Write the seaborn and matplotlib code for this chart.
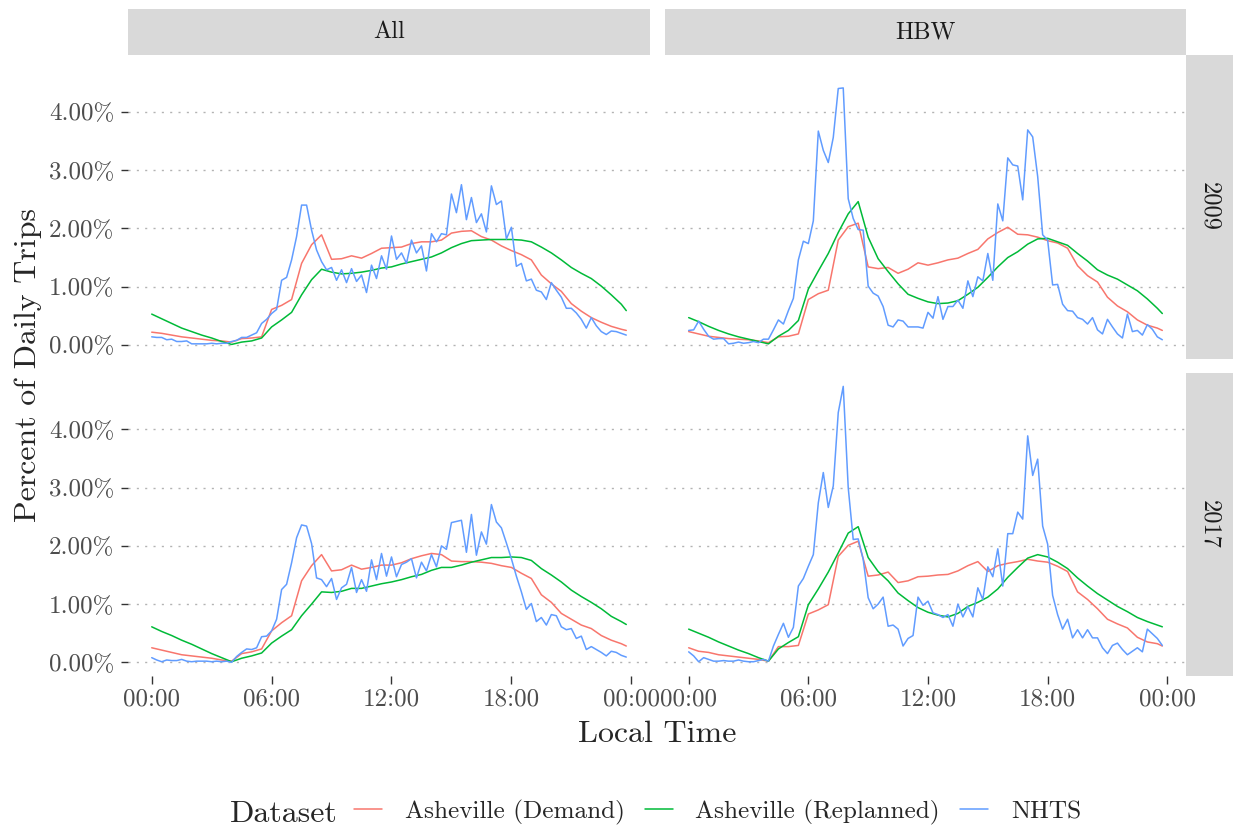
import numpy as np
import pandas as pd
import matplotlib
matplotlib.use("Agg")
import matplotlib.pyplot as plt
import seaborn as sns
from matplotlib.lines import Line2D

sns.set_theme(style="white")
plt.rcParams['font.family'] = ['cmr10', 'DejaVu Serif']
plt.rcParams['mathtext.fontset'] = 'cm'
plt.rcParams['axes.formatter.use_mathtext'] = True

DATASETS = ["Asheville (Demand)", "Asheville (Replanned)", "NHTS"]
COLORS = ["#F8766D", "#00BA38", "#619CFF"]
PURPOSES = ["All", "HBW"]
YEARS = ["2009", "2017"]
X_TICKS = [0, 6, 12, 18, 24]
X_TICK_LABELS = ["00:00", "06:00", "12:00", "18:00", "00:00"]
Y_TICKS = [0, 1, 2, 3, 4]
Y_TICK_LABELS = ["0.00%", "1.00%", "2.00%", "3.00%", "4.00%"]

# time of day (hours): NHTS every 15 min, model outputs every 30 min
NHTS_HOURS = np.arange(96) * 0.25
MODEL_HOURS = np.append(np.arange(48) * 0.5, 23.75)

# ---- percent of daily trips ----
ALL_2009_NHTS = [
    0.14, 0.13, 0.13, 0.09, 0.10, 0.06, 0.06, 0.07, 0.02, 0.02, 0.02, 0.02, 0.03, 0.02, 0.03, 0.03,
    0.06, 0.08, 0.13, 0.13, 0.17, 0.21, 0.37, 0.44, 0.54, 0.61, 1.11, 1.16, 1.46, 1.86, 2.40, 2.40,
    1.97, 1.63, 1.43, 1.29, 1.33, 1.11, 1.29, 1.07, 1.31, 1.09, 1.20, 0.90, 1.37, 1.14, 1.53, 1.30,
    1.87, 1.47, 1.58, 1.40, 1.80, 1.58, 1.70, 1.27, 1.91, 1.77, 1.91, 1.89, 2.59, 2.27, 2.75, 2.15,
    2.53, 2.10, 2.25, 1.94, 2.73, 2.41, 2.47, 1.82, 2.02, 1.35, 1.40, 1.10, 1.13, 0.94, 0.91, 0.78,
    1.07, 0.94, 0.82, 0.63, 0.63, 0.55, 0.44, 0.29, 0.47, 0.33, 0.23, 0.18, 0.24, 0.23, 0.20, 0.17]
ALL_2009_DEMAND = [
    0.22, 0.20, 0.17, 0.14, 0.12, 0.10, 0.08, 0.07, 0.05, 0.11, 0.12, 0.14,
    0.61, 0.68, 0.78, 1.40, 1.72, 1.89, 1.47, 1.48, 1.53, 1.49, 1.57, 1.66,
    1.67, 1.68, 1.74, 1.77, 1.77, 1.80, 1.92, 1.95, 1.96, 1.86, 1.80, 1.70,
    1.62, 1.55, 1.46, 1.20, 1.05, 0.92, 0.71, 0.58, 0.47, 0.39, 0.32, 0.27, 0.25]
ALL_2009_REPLANNED = [
    0.53, 0.45, 0.37, 0.29, 0.23, 0.17, 0.12, 0.06, 0.01, 0.05, 0.07, 0.12,
    0.31, 0.43, 0.56, 0.86, 1.12, 1.30, 1.25, 1.22, 1.23, 1.25, 1.28, 1.32,
    1.34, 1.39, 1.43, 1.47, 1.51, 1.58, 1.67, 1.74, 1.79, 1.80, 1.81, 1.81,
    1.81, 1.80, 1.77, 1.68, 1.58, 1.46, 1.33, 1.23, 1.14, 1.01, 0.86, 0.70, 0.59]

HBW_2009_NHTS = [
    0.25, 0.26, 0.41, 0.27, 0.15, 0.10, 0.11, 0.11, 0.02, 0.03, 0.05, 0.03, 0.04, 0.06, 0.04, 0.10,
    0.10, 0.26, 0.43, 0.36, 0.59, 0.80, 1.46, 1.78, 1.74, 2.13, 3.67, 3.34, 3.13, 3.56, 4.40, 4.41,
    2.51, 2.17, 1.98, 1.97, 1.01, 0.89, 0.84, 0.66, 0.34, 0.31, 0.43, 0.41, 0.31, 0.31, 0.31, 0.29,
    0.56, 0.46, 0.83, 0.44, 0.66, 0.66, 0.77, 0.63, 1.10, 0.83, 1.17, 1.10, 1.57, 1.11, 2.42, 2.13,
    3.21, 3.09, 3.07, 2.49, 3.69, 3.57, 2.89, 1.89, 1.80, 1.03, 1.04, 0.70, 0.59, 0.58, 0.47, 0.44,
    0.36, 0.47, 0.26, 0.19, 0.44, 0.31, 0.19, 0.12, 0.53, 0.23, 0.25, 0.17, 0.35, 0.27, 0.14, 0.09]
HBW_2009_DEMAND = [
    0.23, 0.19, 0.15, 0.13, 0.11, 0.10, 0.09, 0.07, 0.04, 0.14, 0.15, 0.19,
    0.78, 0.88, 0.94, 1.80, 2.03, 2.09, 1.34, 1.31, 1.33, 1.23, 1.30, 1.41,
    1.37, 1.41, 1.46, 1.49, 1.57, 1.64, 1.82, 1.93, 2.02, 1.90, 1.89, 1.85,
    1.79, 1.75, 1.66, 1.36, 1.19, 1.08, 0.82, 0.67, 0.57, 0.43, 0.34, 0.29, 0.25]
HBW_2009_REPLANNED = [
    0.47, 0.40, 0.32, 0.25, 0.19, 0.14, 0.10, 0.06, 0.02, 0.15, 0.25, 0.42,
    0.96, 1.27, 1.57, 1.93, 2.25, 2.46, 1.85, 1.48, 1.26, 1.05, 0.87, 0.80,
    0.74, 0.71, 0.72, 0.76, 0.87, 0.99, 1.16, 1.34, 1.50, 1.60, 1.73, 1.82,
    1.83, 1.77, 1.71, 1.57, 1.44, 1.29, 1.20, 1.13, 1.03, 0.93, 0.79, 0.63, 0.54]

ALL_2017_NHTS = [
    0.08, 0.04, 0.01, 0.04, 0.03, 0.03, 0.05, 0.02, 0.01, 0.02, 0.02, 0.02, 0.01, 0.02, 0.01, 0.02,
    0.00, 0.10, 0.17, 0.23, 0.22, 0.25, 0.44, 0.45, 0.54, 0.74, 1.25, 1.34, 1.71, 2.14, 2.36, 2.34,
    2.04, 1.45, 1.42, 1.30, 1.44, 1.08, 1.28, 1.34, 1.63, 1.20, 1.42, 1.22, 1.76, 1.42, 1.87, 1.48,
    1.81, 1.47, 1.68, 1.72, 1.78, 1.45, 1.72, 1.57, 1.85, 1.64, 2.00, 1.94, 2.40, 2.42, 2.44, 1.89,
    2.54, 1.84, 2.24, 2.03, 2.71, 2.41, 2.31, 2.05, 1.78, 1.48, 1.21, 0.91, 1.01, 0.70, 0.77, 0.64,
    0.82, 0.80, 0.61, 0.56, 0.58, 0.41, 0.45, 0.22, 0.27, 0.22, 0.17, 0.11, 0.19, 0.17, 0.12, 0.09]
ALL_2017_DEMAND = [
    0.25, 0.21, 0.17, 0.13, 0.11, 0.09, 0.07, 0.04, 0.02, 0.15, 0.18, 0.23,
    0.54, 0.68, 0.80, 1.40, 1.66, 1.85, 1.57, 1.59, 1.67, 1.60, 1.63, 1.67,
    1.67, 1.71, 1.78, 1.83, 1.87, 1.85, 1.74, 1.73, 1.73, 1.72, 1.70, 1.66,
    1.63, 1.53, 1.44, 1.16, 1.03, 0.84, 0.74, 0.64, 0.58, 0.46, 0.38, 0.32, 0.28]
ALL_2017_REPLANNED = [
    0.61, 0.53, 0.46, 0.38, 0.31, 0.23, 0.15, 0.08, 0.01, 0.07, 0.11, 0.16,
    0.33, 0.45, 0.56, 0.80, 1.00, 1.21, 1.20, 1.22, 1.27, 1.27, 1.31, 1.35,
    1.38, 1.42, 1.47, 1.51, 1.58, 1.63, 1.63, 1.67, 1.72, 1.76, 1.80, 1.80,
    1.81, 1.80, 1.75, 1.61, 1.50, 1.38, 1.24, 1.13, 1.03, 0.92, 0.79, 0.70, 0.65]

HBW_2017_NHTS = [
    0.18, 0.11, 0.01, 0.08, 0.05, 0.02, 0.02, 0.03, 0.02, 0.02, 0.04, 0.02, 0.01, 0.01, 0.03, 0.05,
    0.02, 0.28, 0.48, 0.67, 0.43, 0.60, 1.31, 1.44, 1.65, 1.85, 2.74, 3.26, 2.66, 3.03, 4.29, 4.74,
    3.00, 2.11, 2.12, 1.77, 1.11, 0.92, 1.00, 1.12, 0.62, 0.64, 0.57, 0.28, 0.41, 0.46, 1.12, 0.98,
    1.05, 0.85, 0.82, 0.77, 0.82, 0.62, 1.00, 0.78, 0.96, 0.78, 1.28, 1.08, 1.64, 1.47, 1.95, 1.31,
    2.21, 2.21, 2.58, 2.46, 3.89, 3.21, 3.49, 2.34, 2.03, 1.15, 0.82, 0.57, 0.74, 0.42, 0.56, 0.42,
    0.56, 0.42, 0.42, 0.25, 0.15, 0.29, 0.33, 0.22, 0.13, 0.19, 0.25, 0.18, 0.57, 0.49, 0.41, 0.29]
HBW_2017_DEMAND = [
    0.25, 0.19, 0.17, 0.13, 0.11, 0.09, 0.07, 0.05, 0.02, 0.27, 0.27, 0.29,
    0.83, 0.90, 0.99, 1.82, 2.01, 2.08, 1.48, 1.50, 1.55, 1.37, 1.40, 1.47,
    1.48, 1.50, 1.51, 1.57, 1.66, 1.73, 1.56, 1.66, 1.70, 1.73, 1.77, 1.74,
    1.72, 1.65, 1.56, 1.21, 1.08, 0.92, 0.74, 0.66, 0.59, 0.43, 0.35, 0.32, 0.28]
HBW_2017_REPLANNED = [
    0.57, 0.50, 0.43, 0.35, 0.28, 0.21, 0.15, 0.08, 0.02, 0.23, 0.34, 0.44,
    0.99, 1.26, 1.55, 1.88, 2.22, 2.33, 1.80, 1.56, 1.40, 1.19, 1.06, 0.94,
    0.86, 0.81, 0.78, 0.84, 0.96, 1.03, 1.12, 1.26, 1.46, 1.63, 1.79, 1.85,
    1.81, 1.72, 1.61, 1.45, 1.31, 1.18, 1.07, 0.96, 0.87, 0.77, 0.70, 0.64, 0.61]

SERIES = {
    ("All", "2009"): (ALL_2009_DEMAND, ALL_2009_REPLANNED, ALL_2009_NHTS),
    ("HBW", "2009"): (HBW_2009_DEMAND, HBW_2009_REPLANNED, HBW_2009_NHTS),
    ("All", "2017"): (ALL_2017_DEMAND, ALL_2017_REPLANNED, ALL_2017_NHTS),
    ("HBW", "2017"): (HBW_2017_DEMAND, HBW_2017_REPLANNED, HBW_2017_NHTS),
}

frames = []
for (purpose, year), (dem, rep, nhts) in SERIES.items():
    for name, hours, vals in ((DATASETS[0], MODEL_HOURS, dem),
                              (DATASETS[1], MODEL_HOURS, rep),
                              (DATASETS[2], NHTS_HOURS, nhts)):
        frames.append(pd.DataFrame({"Hour": hours, "Pct": vals, "Dataset": name,
                                    "Purpose": purpose, "Year": year}))
df = pd.concat(frames, ignore_index=True)

W, H = 1236, 830
fig = plt.figure(figsize=(W / 100, H / 100), dpi=100)
fig.patch.set_facecolor("white")

col_x = {"All": (128, 650), "HBW": (665, 1186)}
row_y = {"2009": (55, 358.7), "2017": (372.7, 676)}

def fig_rect(x0, x1, y0, y1):
    return [x0 / W, 1 - y1 / H, (x1 - x0) / W, (y1 - y0) / H]

TICK_COLOR = "#333333"
TEXT_GRAY = "#4D4D4D"

for purpose in PURPOSES:
    for year in YEARS:
        x0, x1 = col_x[purpose]
        y0, y1 = row_y[year]
        ax = fig.add_axes(fig_rect(x0, x1, y0, y1))
        sub = df[(df.Purpose == purpose) & (df.Year == year)]
        sns.lineplot(data=sub, x="Hour", y="Pct", hue="Dataset", hue_order=DATASETS,
                     palette=COLORS, estimator=None, legend=False, linewidth=1.1,
                     sort=True, ax=ax)
        ax.set_xlim(-1.1875, 24.9375)
        ax.set_ylim(-0.235, 4.975)
        ax.set_facecolor("white")
        for s in ax.spines.values():
            s.set_visible(False)
        ax.set_xlabel("")
        ax.set_ylabel("")
        ax.set_xticks(X_TICKS)
        ax.set_yticks(Y_TICKS)
        ax.yaxis.grid(True, color="#B3B3B3", linestyle=(0, (1.5, 4.5)), linewidth=1.0)
        ax.xaxis.grid(False)
        ax.set_axisbelow(True)
        if purpose == "All":
            ax.set_yticklabels(Y_TICK_LABELS)
            ax.tick_params(axis="y", left=True, length=5.3, width=1.0, color=TICK_COLOR,
                           pad=4.5, labelsize=18, labelcolor=TEXT_GRAY)
        else:
            ax.tick_params(axis="y", left=False, labelleft=False)
        if year == "2017":
            ax.set_xticklabels(X_TICK_LABELS)
            ax.tick_params(axis="x", bottom=True, length=5.5, width=1.0, color=TICK_COLOR,
                           pad=3.5, labelsize=18, labelcolor=TEXT_GRAY)
        else:
            ax.tick_params(axis="x", bottom=False, labelbottom=False)

# facet strips
STRIP_BG = "#D9D9D9"
STRIP_TXT = "#1A1A1A"
for purpose in PURPOSES:
    x0, x1 = col_x[purpose]
    sax = fig.add_axes(fig_rect(x0, x1, 9, 55))
    sax.set_facecolor(STRIP_BG)
    sax.set_xticks([]); sax.set_yticks([])
    for s in sax.spines.values():
        s.set_visible(False)
    sax.text(0.5, 0.5, purpose, ha="center", va="center", fontsize=17.5,
             color=STRIP_TXT, transform=sax.transAxes)
for year in YEARS:
    y0, y1 = row_y[year]
    sax = fig.add_axes(fig_rect(1186, 1232.7, y0, y1))
    sax.set_facecolor(STRIP_BG)
    sax.set_xticks([]); sax.set_yticks([])
    for s in sax.spines.values():
        s.set_visible(False)
    sax.text(0.5, 0.5, year, ha="center", va="center", fontsize=17.5, rotation=-90,
             color=STRIP_TXT, transform=sax.transAxes)

# axis titles
fig.text(657 / W, 1 - 742 / H, "Local Time", ha="center", va="baseline", fontsize=23)
fig.text(28 / W, 1 - 365.5 / H, "Percent of Daily Trips", ha="center", va="center",
         rotation=90, fontsize=23)

# legend
fig.text(230 / W, 1 - 821.7 / H, "Dataset", ha="left", va="baseline", fontsize=23)
handles = [Line2D([], [], color=c, lw=1.1) for c in COLORS]
fig.legend(handles, DATASETS, loc="center left", bbox_to_anchor=(354 / W, 1 - 812 / H),
           ncol=3, frameon=False, fontsize=18.2, handlelength=1.1, handletextpad=0.9,
           columnspacing=0.8, borderpad=0, borderaxespad=0)

fig.savefig("out.png", dpi=100)
